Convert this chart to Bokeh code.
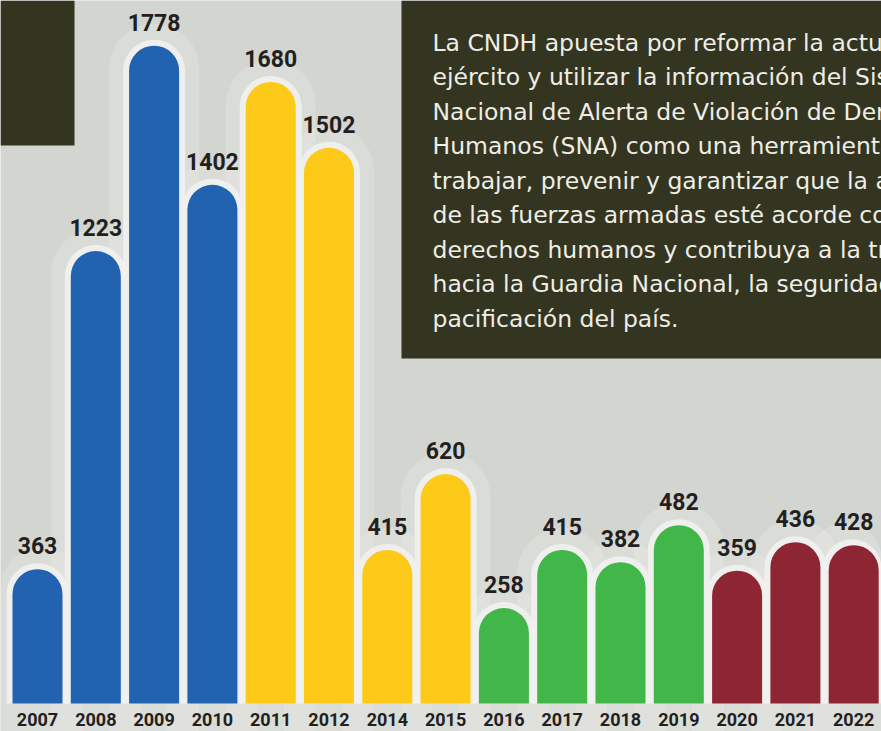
from bokeh.plotting import figure
from bokeh.models import ColumnDataSource, Range1d
from bokeh.core.properties import value
from bokeh.embed import file_html
from bokeh.resources import INLINE

# ---- data ----
years = ["2007", "2008", "2009", "2010", "2011", "2012", "2014", "2015",
         "2016", "2017", "2018", "2019", "2020", "2021", "2022"]
counts = [363, 1223, 1778, 1402, 1680, 1502, 415, 620,
          258, 415, 382, 482, 359, 436, 428]
groups = ["a", "a", "a", "a", "b", "b", "b", "b",
          "c", "c", "c", "c", "d", "d", "d"]
palette = {"a": "#2163B0", "b": "#FDCA19", "c": "#41B649", "d": "#8E2532"}
note_lines = [
    "La CNDH apuesta por reformar la actuación del",
    "ejército y utilizar la información del Sistema",
    "Nacional de Alerta de Violación de Derechos",
    "Humanos (SNA) como una herramienta para",
    "trabajar, prevenir y garantizar que la actuación",
    "de las fuerzas armadas esté acorde con los",
    "derechos humanos y contribuya a la transición",
    "hacia la Guardia Nacional, la seguridad y la",
    "pacificación del país.",
]

# ---- layout ----
W, H = 881, 731
PX_X = 58.3          # pixels per category step
PX_Y = 0.37          # pixels per count unit
X0 = -37 / PX_X
Y0 = -(H - 703) / PX_Y

def dx(px):
    return X0 + px / PX_X

def dy(py_from_top):
    return Y0 + (H - py_from_top) / PX_Y

xs = list(range(len(years)))
src = ColumnDataSource(dict(
    x=xs, top=counts, year=years,
    color=[palette[g] for g in groups],
    label=[str(c) for c in counts],
    halo=[c + 6 / PX_Y for c in counts],
    glow=[c + 22 / PX_Y for c in counts],
))

p = figure(width=W, height=H, output_backend="svg", toolbar_location=None,
           x_range=Range1d(X0, X0 + W / PX_X), y_range=Range1d(Y0, Y0 + H / PX_Y),
           min_border=0, background_fill_color="#D3D5D0", border_fill_color="#D3D5D0",
           outline_line_color=None)
p.axis.visible = False
p.grid.visible = False

# soft glow
p.vbar(x="x", top="glow", bottom=Y0, width=90 / PX_X, source=src,
       fill_color="#F4F4F2", fill_alpha=0.22, line_color=None, border_radius=(45, 45, 0, 0))
# light rim
p.vbar(x="x", top="halo", bottom=0, width=62 / PX_X, source=src,
       fill_color="#F1F1EF", fill_alpha=0.9, line_color=None, border_radius=(31, 31, 0, 0))
# bars
p.vbar(x="x", top="top", bottom=0, width=50 / PX_X, source=src,
       fill_color="color", line_color=None, border_radius=(25, 25, 0, 0))

# value labels
p.text(x="x", y="halo", text="label", source=src, y_offset=-9,
       text_align="center", text_baseline="bottom",
       text_font=value("Roboto"), text_font_style="bold", text_font_size="23px",
       text_color="#231F20")
# year labels
p.text(x="x", y=dy(719), text="year", source=src,
       text_align="center", text_baseline="middle",
       text_font=value("Roboto"), text_font_style="bold", text_font_size="18px",
       text_color="#231F20")

# dark boxes
p.quad(left=dx(0), right=dx(74), top=dy(0), bottom=dy(145),
       fill_color="#333521", line_color=None)
p.quad(left=dx(401), right=dx(W + 5), top=dy(0), bottom=dy(358),
       fill_color="#333521", line_color=None)
p.text(x=[dx(432)] * len(note_lines),
       y=[dy(42 + 34.5 * i) for i in range(len(note_lines))],
       text=note_lines, text_align="left", text_baseline="middle",
       text_font=value("DejaVu Sans"), text_font_size="23.5px", text_color="#EEEDE6")

open("out.html", "w").write(file_html(p, INLINE))
